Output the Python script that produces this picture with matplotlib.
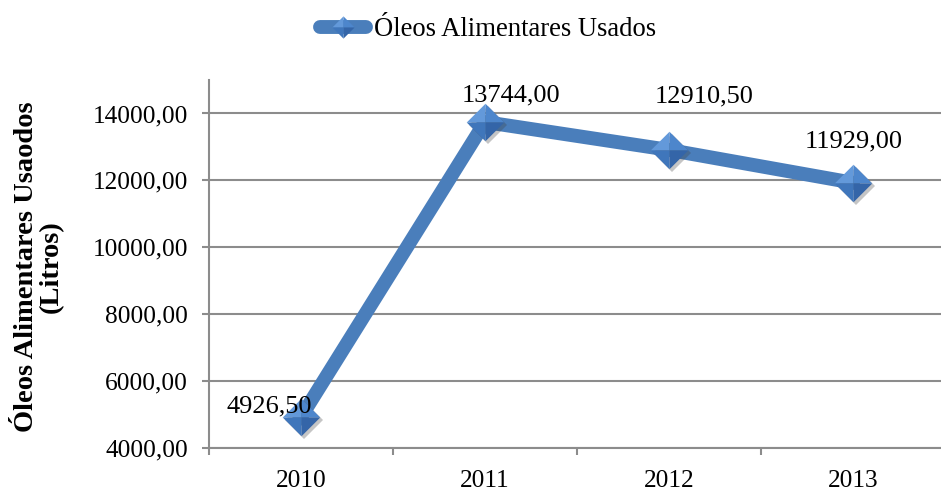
import matplotlib
matplotlib.use("Agg")
import matplotlib.pyplot as plt
import matplotlib.transforms as mtransforms
from matplotlib.path import Path
from matplotlib.lines import Line2D
from matplotlib.legend_handler import HandlerTuple

# ---- data ----
categories = ["2010", "2011", "2012", "2013"]
values = [4926.50, 13744.00, 12910.50, 11929.00]
value_labels = ["4926,50", "13744,00", "12910,50", "11929,00"]
series_name = "Óleos Alimentares Usados"
y_ticks = [4000, 6000, 8000, 10000, 12000, 14000]
y_tick_labels = ["4000,00", "6000,00", "8000,00", "10000,00", "12000,00", "14000,00"]
y_label = "Óleos Alimentares Usaodos\n(Litros)"
# label offsets (pixels) relative to data point, as placed in the original
label_offsets = [(-32, 11), (26, 27), (35, 53), (1, 41)]

plt.rcParams['font.family'] = ['Liberation Serif', 'DejaVu Serif']

W, H = 941, 493
fig = plt.figure(figsize=(W / 100, H / 100), dpi=100)
ax = fig.add_axes([209 / W, 1 - 448 / H, 736 / W, (448 - 80) / H])

LINE_C = '#4A7EBB'
GRID_C = '#8C8C8C'

x = list(range(len(categories)))

# line
ax.plot(x, values, color=LINE_C, lw=10, solid_joinstyle='round', zorder=3)

# marker shadow
shadow_tr = ax.transData + mtransforms.ScaledTranslation(2.5 / 100, -3 / 100, fig.dpi_scale_trans)
ax.plot(x, values, ls='none', marker='D', ms=19, color='#404040', alpha=0.3,
        mew=0, transform=shadow_tr, zorder=4)

# bevelled diamond facets
facets = [
    ([(0, 0), (-1, 0), (0, 1), (0, 0)], '#6399DA'),   # upper-left
    ([(0, 0), (0, 1), (1, 0), (0, 0)], '#4D86CC'),    # upper-right
    ([(0, 0), (1, 0), (0, -1), (0, 0)], '#3465A8'),   # lower-right
    ([(0, 0), (0, -1), (-1, 0), (0, 0)], '#3F76BB'),  # lower-left
]
facet_paths = []
for verts, col in facets:
    p = Path(verts, [Path.MOVETO, Path.LINETO, Path.LINETO, Path.CLOSEPOLY])
    facet_paths.append((p, col))
    ax.plot(x, values, ls='none', marker=p, ms=27, color=col, mew=0, zorder=5)

# data labels
for xi, v, lab, (dx, dy) in zip(x, values, value_labels, label_offsets):
    ax.annotate(lab, (xi, v), xytext=(dx, dy), textcoords='offset pixels',
                ha='center', va='center', fontsize=19, color='black', zorder=6)

# axes styling
ax.set_xlim(-0.5, 3.5)
ax.set_ylim(4000, 15000)
ax.set_yticks(y_ticks)
ax.set_yticklabels(y_tick_labels)
ax.set_xticks(x)
ax.set_xticklabels(categories)
ax.set_xticks([-0.5, 0.5, 1.5, 2.5, 3.5], minor=True)

for s in ['top', 'right']:
    ax.spines[s].set_visible(False)
for s in ['left', 'bottom']:
    ax.spines[s].set_color(GRID_C)
    ax.spines[s].set_linewidth(1.5)

ax.yaxis.grid(True, color=GRID_C, lw=1.5)
ax.set_axisbelow(True)
ax.tick_params(axis='y', direction='out', length=5, width=1.5, color=GRID_C,
               labelsize=18.3, pad=10)
ax.tick_params(axis='x', which='major', length=0, labelsize=18.3, pad=16)
ax.tick_params(axis='x', which='minor', direction='out', length=5, width=1.5, color=GRID_C)

# y label
fig.text(39 / W, 1 - 267 / H, y_label, rotation=90, ha='center', va='center',
         fontsize=20.5, fontweight='bold', multialignment='center', linespacing=1.0)

# legend
line_proxy = Line2D([], [], color=LINE_C, lw=10, solid_capstyle='round')
tri_proxies = [Line2D([], [], ls='none', marker=p, ms=16, color=c, mew=0)
               for p, c in facet_paths]
fig.legend(handles=[tuple([line_proxy] + tri_proxies)], labels=[series_name],
           handler_map={tuple: HandlerTuple(ndivide=1)},
           loc='center', bbox_to_anchor=(488 / W, 1 - 30 / H), frameon=False,
           fontsize=19.2, handlelength=1.75, handletextpad=0.3, borderpad=0)

fig.savefig("out.png", dpi=100)
